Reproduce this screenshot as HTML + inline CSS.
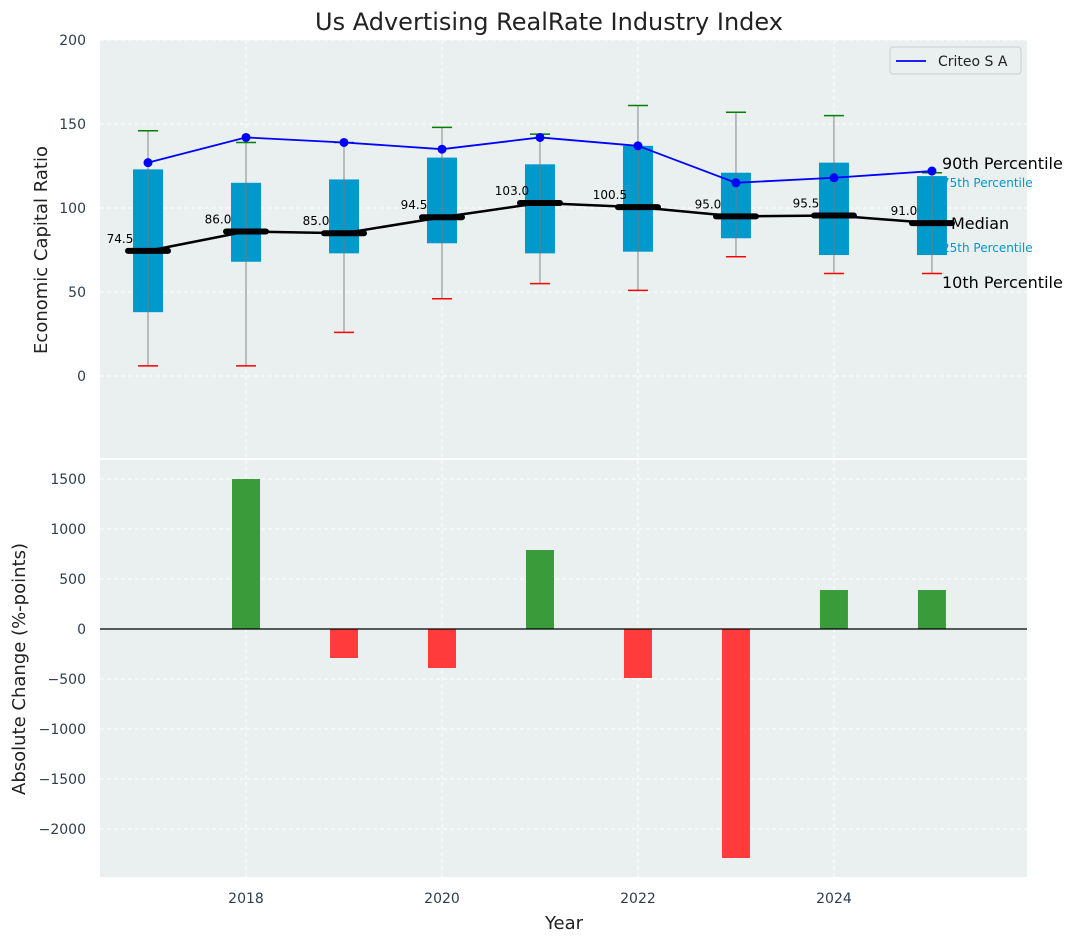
<!DOCTYPE html>
<html><head><meta charset="utf-8"><style>
body{margin:0;background:#fff;font-family:"Liberation Sans","DejaVu Sans",sans-serif}
svg text{font-family:"DejaVu Sans","Liberation Sans",sans-serif}
</style></head><body>
<svg id="c" width="1077" height="942" xmlns="http://www.w3.org/2000/svg"></svg>
<script>
const years=[2017,2018,2019,2020,2021,2022,2023,2024,2025];
const p10=[6,6,26,46,55,51,71,61,61];
const p25=[38,68,73,79,73,74,82,72,72];
const median=[74.5,86,85,94.5,103,100.5,95,95.5,91];
const p75=[123,115,117,130,126,137,121,127,119];
const p90=[146,139,139,148,144,161,157,155,121];
const criteo=[127,142,139,135,142,137,115,118,122];
const changeYears=[2018,2019,2020,2021,2022,2023,2024,2025];
const changes=[1500,-290,-390,790,-490,-2290,390,390];
const topTicks=[0,50,100,150,200];
const botTicks=[-2000,-1500,-1000,-500,0,500,1000,1500];
const xTicks=[2018,2020,2022,2024];

const NS="http://www.w3.org/2000/svg",svg=document.getElementById('c');
function mk(t,a,p,txt){const e=document.createElementNS(NS,t);for(const k in a)e.setAttribute(k,a[k]);if(txt!==undefined)e.textContent=txt;(p||svg).appendChild(e);return e;}
const L=100,R=1027;
const x=v=>L+(v-2016.51)/(2025.97-2016.51)*(R-L);
const yT=v=>376-v*1.68;
const yB=v=>629-v*0.1;

let t=mk('text',{x:549,y:30,'text-anchor':'middle','font-size':24,fill:'#222'},null,'Us Advertising RealRate Industry Index');


let bg=mk('rect',{x:L,y:40,width:R-L,height:418,fill:'#eaeff0'});

let bg2=mk('rect',{x:L,y:460,width:R-L,height:417,fill:'#eaeff0'});


topTicks.forEach(v=>{
  mk('line',{x1:L,x2:R,y1:yT(v),y2:yT(v),stroke:'#fff','stroke-dasharray':'4 3'});
  let e=mk('text',{x:86,y:yT(v)+5,'text-anchor':'end','font-size':14,fill:'#2c3e50'},null,v);
  
});
botTicks.forEach(v=>{
  mk('line',{x1:L,x2:R,y1:yB(v),y2:yB(v),stroke:'#fff','stroke-dasharray':'4 3'});
  let e=mk('text',{x:86,y:yB(v)+5,'text-anchor':'end','font-size':14,fill:'#2c3e50'},null,v.toString().replace('-','\u2212'));
  
});
xTicks.forEach(v=>{
  mk('line',{x1:x(v),x2:x(v),y1:40,y2:458,stroke:'#fff','stroke-dasharray':'4 3'});
  mk('line',{x1:x(v),x2:x(v),y1:460,y2:877,stroke:'#fff','stroke-dasharray':'4 3'});
  let e=mk('text',{x:x(v),y:903,'text-anchor':'middle','font-size':14,fill:'#2c3e50'},null,v);
  
});

[['90th Percentile',16,'#000',942,169],['75th Percentile',12,'#0099cc',942,187],['Median',16,'#000',951,229],['25th Percentile',12,'#0099cc',942,252],['10th Percentile',16,'#000',942,288]].forEach(a=>{
  let e=mk('text',{x:a[3],y:a[4],'font-size':a[1],fill:a[2]},null,a[0]);
  
});

years.forEach((yr,i)=>{
  const cx=x(yr),w=30;
  let wl=mk('line',{x1:cx,x2:cx,y1:yT(p90[i]),y2:yT(p10[i]),stroke:'#888','stroke-width':1});
  
  let b=mk('rect',{x:cx-w/2,y:yT(p75[i]),width:w,height:yT(p25[i])-yT(p75[i]),fill:'#0099cc'});
  
  mk('line',{x1:cx,x2:cx,y1:yT(p75[i]),y2:yT(p25[i]),stroke:'#777','stroke-width':1});
  let c1=mk('line',{x1:cx-10,x2:cx+10,y1:yT(p90[i]),y2:yT(p90[i]),stroke:'green','stroke-width':1.5});
  
  let c2=mk('line',{x1:cx-10,x2:cx+10,y1:yT(p10[i]),y2:yT(p10[i]),stroke:'red','stroke-width':1.5});
  
  let m=mk('line',{x1:cx-20,x2:cx+20,y1:yT(median[i]),y2:yT(median[i]),stroke:'#000','stroke-width':6,'stroke-linecap':'round'});
  
  let ml=mk('text',{x:cx-28,y:yT(median[i])-8,'text-anchor':'middle','font-size':12,fill:'#000'},null,median[i].toFixed(1));
  
});
let mp=mk('polyline',{points:years.map((y,i)=>x(y)+','+yT(median[i])).join(' '),fill:'none',stroke:'#000','stroke-width':2.5});

let cp=mk('polyline',{points:years.map((y,i)=>x(y)+','+yT(criteo[i])).join(' '),fill:'none',stroke:'blue','stroke-width':1.8});

years.forEach((y,i)=>{let d=mk('circle',{cx:x(y),cy:yT(criteo[i]),r:4.5,fill:'blue'});
  });

let lg=mk('g',{});
mk('rect',{x:890,y:47,width:131,height:27,rx:3,fill:'#eaeff0',stroke:'#ccc'},lg);
mk('line',{x1:896,x2:926,y1:61,y2:61,stroke:'blue','stroke-width':1.8},lg);
mk('text',{x:938,y:66,'font-size':14,fill:'#222'},lg,'Criteo S A');

changeYears.forEach((yr,i)=>{
  const v=changes[i],bw=28;
  let r=mk('rect',{x:x(yr)-bw/2,y:Math.min(yB(v),yB(0)),width:bw,height:Math.abs(yB(v)-yB(0)),fill:v>=0?'#3a9b3a':'#ff3b3b'});
  
});
mk('line',{x1:L,x2:R,y1:yB(0),y2:yB(0),stroke:'#000','stroke-width':1.2});

let a1=mk('text',{x:0,y:0,transform:'translate(47,250) rotate(-90)','text-anchor':'middle','font-size':18,fill:'#222'},null,'Economic Capital Ratio');

let a2=mk('text',{x:0,y:0,transform:'translate(25,669) rotate(-90)','text-anchor':'middle','font-size':18,fill:'#222'},null,'Absolute Change (%-points)');

let a3=mk('text',{x:564,y:929,'text-anchor':'middle','font-size':18,fill:'#222'},null,'Year');

</script>
</body></html>
